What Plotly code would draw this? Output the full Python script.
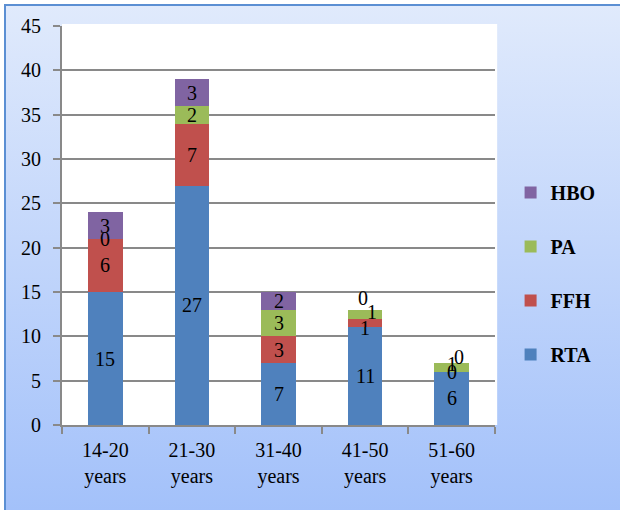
import base64
import plotly.graph_objects as go

# Injury counts by age group
age_groups = ["14-20<br>years", "21-30<br>years", "31-40<br>years", "41-50<br>years", "51-60<br>years"]
rta = [15, 27, 7, 11, 6]
ffh = [6, 7, 3, 1, 0]
pa = [0, 2, 3, 1, 1]
hbo = [3, 3, 2, 0, 0]

series = [
    ("RTA", rta, "#4f81bd"),
    ("FFH", ffh, "#c0504d"),
    ("PA", pa, "#9bbb59"),
    ("HBO", hbo, "#8064a2"),
]

# small nudges (px) for labels that would sit on top of each other
label_nudge = {
    ("FFH", 3): (0, -5),
    ("PA", 3): (7, 2),
    ("HBO", 3): (-2, 12),
    ("PA", 4): (0, 3),
    ("HBO", 4): (7, 6),
}

W, H = 620, 510
ML, MR, MT, MB = 62, 125, 26, 85
PW, PH = W - ML - MR, H - MT - MB

FONT = "Liberation Serif"
GRID = "#898989"

fig = go.Figure()
for i, (name, vals, color) in enumerate(series):
    fig.add_trace(go.Bar(
        x=age_groups, y=vals, name=name,
        marker=dict(color=color, line=dict(width=0)),
        width=0.4, legendgroup=name, legendrank=100 - i,
    ))

# segment value labels placed at the middle of each stacked segment
annotations = []
base = [0] * len(age_groups)
for name, vals, color in series:
    for j, v in enumerate(vals):
        dx, dy = label_nudge.get((name, j), (0, 0))
        annotations.append(dict(
            x=age_groups[j], y=base[j] + v / 2, xref="x", yref="y",
            text=str(v), showarrow=False, xshift=dx, yshift=dy,
            font=dict(family=FONT, size=20, color="#000000"),
        ))
        base[j] += v

# background: light blue vertical gradient with a thin blue border
svg = (
    f'<svg xmlns="http://www.w3.org/2000/svg" width="{W}" height="{H}">'
    '<defs><linearGradient id="g" gradientUnits="userSpaceOnUse" x1="0" y1="5" x2="0" y2="510">'
    '<stop offset="0" stop-color="#e0eafc"/><stop offset="1" stop-color="#a3c1fa"/>'
    '</linearGradient></defs>'
    f'<rect width="{W}" height="{H}" fill="#ffffff"/>'
    '<rect x="5" y="5" width="700" height="600" fill="url(#g)" stroke="#5b8fd3" stroke-width="2"/>'
    '</svg>'
)
bg_src = "data:image/svg+xml;base64," + base64.b64encode(svg.encode()).decode()

fig.update_layout(
    width=W, height=H,
    margin=dict(l=ML, r=MR, t=MT, b=MB, pad=0),
    barmode="stack",
    paper_bgcolor="rgba(0,0,0,0)",
    plot_bgcolor="#ffffff",
    font=dict(family=FONT, size=20, color="#000000"),
    images=[dict(
        source=bg_src, xref="paper", yref="paper",
        x=-ML / PW, y=1 + MT / PH, sizex=W / PW, sizey=H / PH,
        xanchor="left", yanchor="top", sizing="stretch", layer="below",
    )],
    shapes=[dict(
        type="rect", xref="paper", yref="paper", x0=0, x1=1.005, y0=0, y1=1.005,
        fillcolor="#ffffff", line=dict(width=0), layer="below",
    )],
    annotations=annotations,
    showlegend=True,
    legend=dict(
        x=1.036, xanchor="left", y=0.38, yanchor="middle",
        traceorder="grouped", tracegroupgap=25,
        bgcolor="rgba(0,0,0,0)",
        font=dict(family=FONT, size=20, color="#000000", weight="bold"),
        itemwidth=30,
    ),
    bargap=0.6,
)

fig.update_xaxes(
    type="category", showline=True, linecolor=GRID, linewidth=2,
    ticks="outside", tickson="boundaries", ticklen=7, tickcolor=GRID, tickwidth=2,
    showgrid=False, tickfont=dict(family=FONT, size=20), ticklabelstandoff=6,
)
fig.update_yaxes(
    range=[0, 45], dtick=5, showline=True, linecolor=GRID, linewidth=2,
    ticks="outside", ticklen=7, tickcolor=GRID, tickwidth=2,
    showgrid=True, gridcolor=GRID, gridwidth=2, zeroline=False,
    tickfont=dict(family=FONT, size=20), ticklabelstandoff=8,
)

fig.write_html("out.html")
